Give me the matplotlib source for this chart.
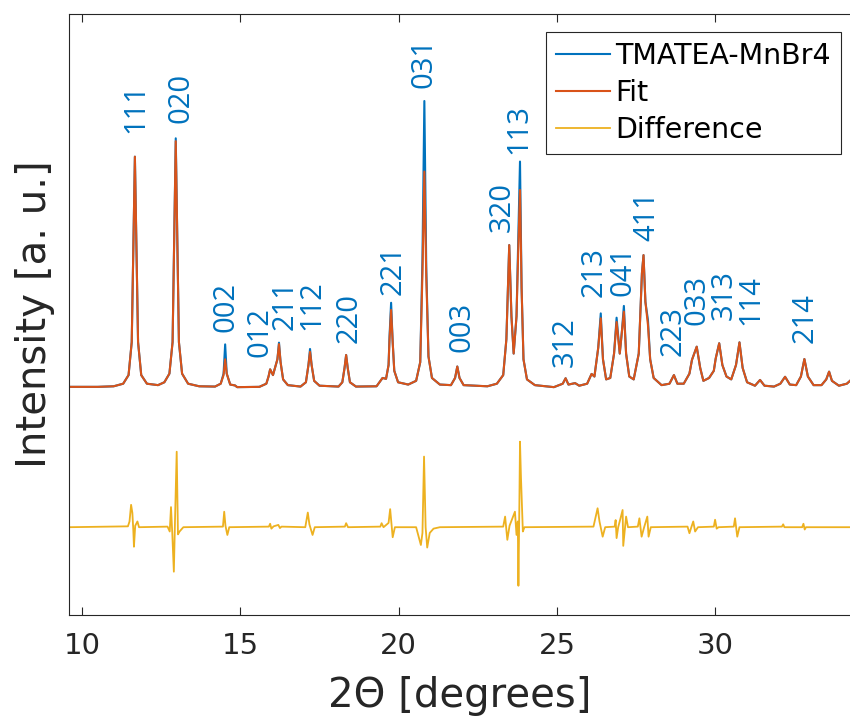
import matplotlib.pyplot as plt

# measured pattern, intensity normalised so the 031 peak = 100
two_theta = [9.6, 10.5, 11.0, 11.3, 11.47, 11.57, 11.62, 11.67, 11.72, 11.77, 11.87, 12.05,
             12.4, 12.6, 12.76, 12.86, 12.91, 12.96, 13.01, 13.06, 13.16, 13.35, 13.7,
             14.2, 14.38, 14.47, 14.52, 14.57, 14.68, 14.83, 14.9,
             15.6, 15.82, 15.89, 15.94, 16.03, 16.17, 16.22, 16.27, 16.35, 16.5,
             16.9, 17.07, 17.15, 17.2, 17.25, 17.33, 17.5,
             18.1, 18.22, 18.29, 18.34, 18.39, 18.46, 18.65,
             19.3, 19.49, 19.6, 19.68, 19.71, 19.76, 19.81, 19.86, 19.98,
             20.3, 20.55, 20.68, 20.75, 20.81, 20.87, 20.94, 21.05, 21.3,
             21.65, 21.78, 21.85, 21.92, 22.05, 22.8,
             23.1, 23.3, 23.4, 23.49, 23.56, 23.63, 23.72, 23.78, 23.83, 23.88, 23.94, 24.05, 24.3,
             24.9, 25.18, 25.27, 25.36, 25.57, 25.7,
             25.95, 26.09, 26.18, 26.3, 26.38, 26.45, 26.55,
             26.68, 26.8, 26.88, 26.98, 27.05, 27.11, 27.18, 27.28,
             27.42, 27.58, 27.68, 27.73, 27.79, 27.87, 27.94, 28.05, 28.3,
             28.55, 28.69, 28.8, 29.0, 29.18, 29.26, 29.41, 29.52, 29.62,
             29.8, 29.95, 30.01, 30.12, 30.22, 30.35,
             30.5, 30.65, 30.76, 30.86, 31.0, 31.25, 31.41, 31.55,
             31.85, 32.05, 32.2, 32.35, 32.55, 32.7, 32.81, 32.92, 33.1,
             33.35, 33.5, 33.59, 33.68, 33.9, 34.15, 34.3]

observed = [0.4, 0.4, 0.6, 1.5, 4.5, 16, 48, 80.6, 48, 16, 4.5, 1.5,
            1.0, 2, 5, 16, 52, 87, 52, 16, 5, 1.5, 0.6,
            0.5, 1.5, 5, 15.2, 5, 1.2, 0.9, 0.3,
            0.4, 1.5, 4, 6.5, 4.5, 10, 15.8, 9, 3, 1,
            0.5, 2, 8, 13.6, 8, 2.5, 0.8,
            0.5, 2, 7, 11.5, 7, 2, 0.5,
            0.6, 3.5, 3.2, 8, 18, 29.7, 16, 6, 2,
            1.2, 2.5, 9, 45, 100, 42, 11, 3.5, 1.2,
            1.0, 3.5, 7.5, 3.5, 1, 0.6,
            1.5, 4.5, 17, 49.8, 25, 12, 25, 55, 78.9, 35, 10, 3, 1,
            0.3, 1.5, 3.4, 1.2, 1.7, 0.8,
            1.5, 4.9, 4, 14, 26, 10, 3,
            3.5, 12, 24.5, 12, 20, 28.6, 12, 4,
            3, 12, 40, 46.3, 30, 23.7, 10, 3.5, 1,
            1.5, 4.5, 1.5, 1.5, 5, 9.8, 14.4, 7, 2.5,
            3.5, 6, 10.3, 15.6, 8, 4,
            3, 8, 15.9, 7, 2, 0.8, 2.8, 0.8,
            0.5, 1.5, 3.9, 1.2, 1.0, 4, 10.1, 4, 1,
            1.0, 3, 5.7, 2.5, 0.8, 1.5, 3]

fit = [0.4, 0.4, 0.6, 1.5, 4.5, 16, 48, 80.6, 48, 16, 4.5, 1.5,
       1.0, 2, 5, 16, 52, 86, 52, 16, 5, 1.5, 0.6,
       0.5, 1.5, 4.5, 10, 5, 1.2, 0.9, 0.3,
       0.4, 1.5, 4, 6.5, 4.5, 10, 15.3, 9, 3, 1,
       0.5, 2, 8, 12.6, 8, 2.5, 0.8,
       0.5, 2, 7, 11.5, 7, 2, 0.5,
       0.6, 3.5, 3.2, 8, 17, 27.2, 16, 6, 2,
       1.2, 2.5, 9, 40, 75.4, 39, 11, 3.5, 1.2,
       1.0, 3.5, 7.5, 3.5, 1, 0.6,
       1.5, 4.5, 17, 49.8, 25, 12, 25, 50, 69, 35, 10, 3, 1,
       0.3, 1.5, 3.4, 1.2, 1.7, 0.8,
       1.5, 4.9, 4, 14, 24.3, 10, 3,
       3.5, 12, 23, 12, 20, 26.6, 12, 4,
       3, 12, 40, 46.3, 30, 22, 10, 3.5, 1,
       1.5, 4.5, 1.5, 1.5, 5, 9.8, 14.4, 7, 2.5,
       3.5, 6, 10.3, 15.6, 8, 4,
       3, 8, 15.9, 7, 2, 0.8, 2.8, 0.8,
       0.5, 1.5, 3.9, 1.2, 1.0, 4, 10.1, 4, 1,
       1.0, 3, 5.7, 2.5, 0.8, 1.5, 3]

# residual (observed - fit), drawn shifted below the pattern
diff_theta = [9.6, 11.45, 11.5, 11.55, 11.59, 11.62, 11.64, 11.68, 11.75, 11.8,
              12.7, 12.77, 12.81, 12.85, 12.9, 12.94, 12.99, 13.03, 13.08, 13.2,
              14.45, 14.49, 14.53, 14.59, 14.65,
              15.9, 15.94, 15.98, 16.05, 16.2, 16.25, 16.3,
              17.05, 17.13, 17.18, 17.28, 17.35,
              18.3, 18.34, 18.4,
              19.42, 19.46, 19.52, 19.68, 19.73, 19.81, 19.88,
              20.55, 20.7, 20.75, 20.8, 20.85, 20.9, 20.98, 21.1, 21.3,
              23.3, 23.36, 23.43, 23.5, 23.67, 23.72, 23.76, 23.78, 23.81, 23.83, 23.86, 23.92, 23.97,
              26.15, 26.28, 26.34, 26.44, 26.52,
              26.82, 26.85, 26.88, 26.93, 26.99, 27.07, 27.09, 27.18, 27.24,
              27.55, 27.6, 27.67, 27.75, 27.85, 27.89, 27.96,
              29.12, 29.18, 29.24, 29.3, 29.36, 29.45,
              29.95, 29.99, 30.04, 30.1,
              30.58, 30.62, 30.69, 30.76,
              32.1, 32.14, 32.18,
              32.74, 32.78, 32.82, 32.86, 34.3]

difference = [0, 0.3, 2, 7.8, 5, -1, -6.8, 0.5, 2, 0,
              0.2, -1.5, 7, -2, -15.5, 4, 26.3, -2.5, -1.5, 0,
              0.2, 5.4, 0.5, -2.7, 0,
              0.2, 1.2, -0.5, 0.3, 0.8, -0.3, 0.2,
              0, 5.1, 1, -2.7, 0,
              0.2, 1.4, 0,
              0.2, 1.4, 0, 1.5, 6.3, -3.5, 0,
              0, -6.2, -2, 24.6, 0, -7.1, -2, -0.5, 0,
              0.2, 3.7, -4.4, 0.5, 5.4, -2.7, 2, -20.4, 8, 29.8, 17.6, -1.5, 0,
              0.2, 6.6, 2, -3.3, 0,
              0.2, 2.5, -3.8, 0, 2.5, 6, -6.5, 3.7, 0,
              0.2, 3.1, -3.3, 0, 3.7, -3.3, 0,
              0.2, -2.1, 0, 2, -1.5, 0,
              0.2, 2.6, -0.5, 0,
              0.2, 3.1, -3.3, 0,
              0.2, 1, 0,
              0, 1.2, -0.8, 0, 0]

diff_offset = -48.5

# Miller indices and where their labels sit
hkl = ['111', '020', '002', '012', '211', '112', '220', '221', '031', '003',
       '320', '113', '312', '213', '041', '411', '223', '033', '313', '114', '214']
hkl_x = [11.7, 13.12, 14.54, 15.62, 16.41, 17.25, 18.42, 19.83, 20.81, 21.99,
         23.27, 23.80, 25.25, 26.17, 27.07, 27.83, 28.65, 29.43, 30.28, 31.13, 32.83]
hkl_y = [88.8, 92.2, 19.6, 10.9, 20.2, 20.2, 15.6, 32.4, 104.4, 12.6,
         54.5, 81.5, 7.4, 31.8, 32.0, 51.3, 11.1, 22.0, 23.7, 22.0, 15.6]

blue = '#0072BD'
orange = '#D95319'
yellow = '#EDB120'
dark = '#262626'

fig = plt.figure(figsize=(8.5, 7.2), dpi=100)
ax = fig.add_axes([0.0812, 0.1458, 0.9188, 0.8347])

ax.plot(two_theta, observed, color=blue, lw=1.5, label='TMATEA-MnBr4')
ax.plot(two_theta, fit, color=orange, lw=1.5, label='Fit')
ax.plot(diff_theta, [d + diff_offset for d in difference], color=yellow, lw=1.3,
        label='Difference')

for lab, x, y in zip(hkl, hkl_x, hkl_y):
    ax.text(x, y, lab, rotation=90, ha='center', va='bottom', color=blue,
            fontsize=21, family='Open Sans')

ax.set_xlim(9.59, 34.25)
ax.set_ylim(-79.1, 130.3)
ax.set_xticks([10, 15, 20, 25, 30])
ax.set_yticks([])
ax.tick_params(axis='x', direction='in', top=True, length=5.5, width=0.8,
               colors=dark, labelsize=21, pad=12)
for side in ['left', 'top', 'bottom']:
    ax.spines[side].set_color(dark)
    ax.spines[side].set_linewidth(0.8)
ax.spines['right'].set_visible(False)

ax.set_xlabel('2\u0398 [degrees]', fontsize=29, color=dark, labelpad=12)
ax.set_ylabel('Intensity [a. u.]', fontsize=29, color=dark, labelpad=10)

leg = ax.legend(loc='upper right', bbox_to_anchor=(0.9885, 0.970), borderaxespad=0,
                fontsize=20.5, handlelength=1.9, handletextpad=0.2, labelspacing=0.32,
                borderpad=0.35, fancybox=False, framealpha=1)
leg.get_frame().set_edgecolor(dark)
leg.get_frame().set_linewidth(0.8)

plt.savefig('out.png', dpi=100)
